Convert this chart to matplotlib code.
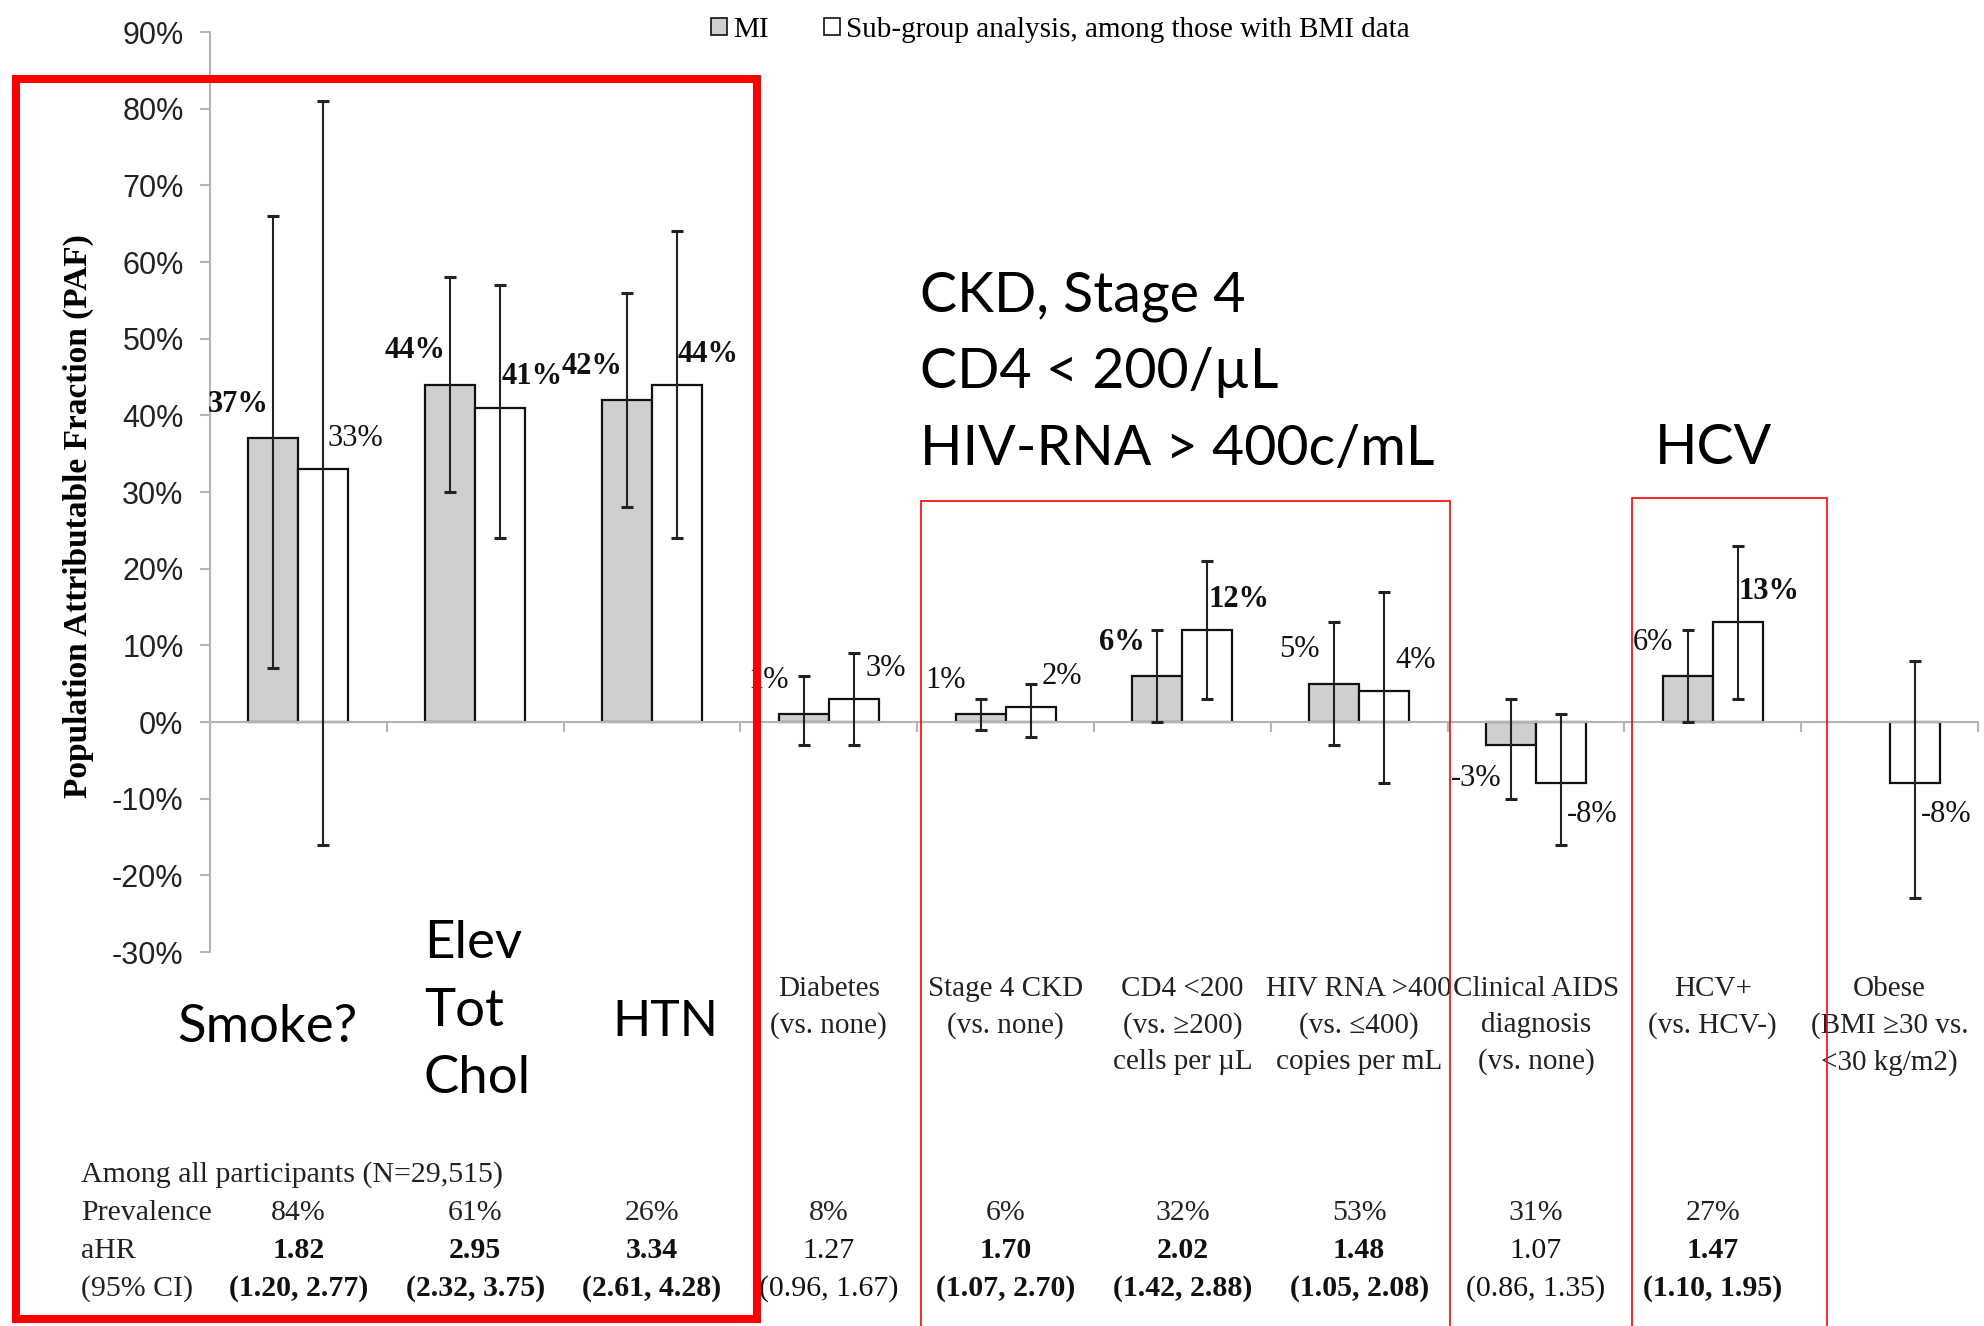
import numpy as np
import matplotlib
matplotlib.use("Agg")
import matplotlib.pyplot as plt
from matplotlib.patches import Patch, Rectangle
from matplotlib import transforms

# PAF per risk factor: MI cohort vs BMI sub-group (percent)
mi_vals = [37, 44, 42, 1, 1, 6, 5, -3, 6, None]
mi_lo = [7, 30, 28, -3, -1, 0, -3, -10, 0, None]
mi_hi = [66, 58, 56, 6, 3, 12, 13, 3, 12, None]
mi_bold = [True, True, True, False, False, True, False, False, False, False]

sub_vals = [33, 41, 44, 3, 2, 12, 4, -8, 13, -8]
sub_lo = [-16, 24, 24, -3, -2, 3, -8, -16, 3, -23]
sub_hi = [81, 57, 64, 9, 5, 21, 17, 1, 23, 8]
sub_bold = [False, True, True, False, False, True, False, False, True, False]

cat_labels = ["", "", "",
              "Diabetes\n(vs. none)",
              "Stage 4 CKD\n(vs. none)",
              "CD4 <200\n(vs. \u2265200)\ncells per \u00b5L",
              "HIV RNA >400\n(vs. \u2264400)\ncopies per mL",
              "Clinical AIDS\ndiagnosis\n(vs. none)",
              "HCV+\n(vs. HCV-)",
              "Obese\n(BMI \u226530 vs.\n<30 kg/m2)"]

prevalence = ["84%", "61%", "26%", "8%", "6%", "32%", "53%", "31%", "27%"]
ahr = ["1.82", "2.95", "3.34", "1.27", "1.70", "2.02", "1.48", "1.07", "1.47"]
ahr_ci = ["(1.20, 2.77)", "(2.32, 3.75)", "(2.61, 4.28)", "(0.96, 1.67)",
          "(1.07, 2.70)", "(1.42, 2.88)", "(1.05, 2.08)", "(0.86, 1.35)",
          "(1.10, 1.95)"]
ahr_bold = [True, True, True, False, True, True, True, False, True]

yticks = np.arange(-30, 91, 10)

W, H = 1984, 1326
SERIF = ["Liberation Serif", "DejaVu Serif"]
NARROW = ["Liberation Sans Narrow", "Liberation Sans", "DejaVu Sans"]
CALLOUT = ["Lato", "DejaVu Sans"]
AXIS_GRAY = "#b4b4b4"

fig = plt.figure(figsize=(W / 100, H / 100), dpi=100)
ax = fig.add_axes([210 / W, 1 - 952 / H, (1978 - 210) / W, (952 - 32) / H])

x = np.arange(len(sub_vals))
bw = 0.283

# grey MI bars (no value for obesity)
mi_idx = [i for i, v in enumerate(mi_vals) if v is not None]
mi_x = x[mi_idx] - bw / 2
mi_v = np.array([mi_vals[i] for i in mi_idx])
ax.bar(mi_x, mi_v, bw, color="#cfcfcf", edgecolor="#111111", linewidth=1.6, zorder=2)
ax.errorbar(mi_x, mi_v,
            yerr=[mi_v - np.array([mi_lo[i] for i in mi_idx]),
                  np.array([mi_hi[i] for i in mi_idx]) - mi_v],
            fmt="none", ecolor="#222222", elinewidth=1.5, capsize=4, capthick=2.2, zorder=3)

sub_x = x + bw / 2
sub_v = np.array(sub_vals)
ax.bar(sub_x, sub_v, bw, color="white", edgecolor="#111111", linewidth=1.6, zorder=2)
ax.errorbar(sub_x, sub_v, yerr=[sub_v - np.array(sub_lo), np.array(sub_hi) - sub_v],
            fmt="none", ecolor="#222222", elinewidth=1.5, capsize=4, capthick=2.2, zorder=3)

# value labels
for i in mi_idx:
    v = mi_vals[i]
    ax.text(i - 0.34, v + (4.4 if v >= 0 else -4.4), f"{v}%", ha="center", va="center",
            family=SERIF, fontsize=22, fontweight="bold" if mi_bold[i] else "normal",
            color="#111111", zorder=4)
for i, v in enumerate(sub_vals):
    ax.text(i + 0.32, v + (4.0 if v >= 0 else -4.0), f"{v}%", ha="center", va="center",
            family=SERIF, fontsize=22, fontweight="bold" if sub_bold[i] else "normal",
            color="#111111", zorder=4)

# axes styling
ax.set_xlim(-0.5, len(sub_vals) - 0.5)
ax.set_ylim(-30, 90)
for s in ["top", "right"]:
    ax.spines[s].set_visible(False)
ax.spines["left"].set_color(AXIS_GRAY)
ax.spines["left"].set_linewidth(1.5)
ax.spines["bottom"].set_position(("data", 0))
ax.spines["bottom"].set_color(AXIS_GRAY)
ax.spines["bottom"].set_linewidth(1.5)
ax.set_xticks(np.arange(0.5, len(sub_vals), 1))
ax.set_xticklabels([])
ax.tick_params(axis="x", direction="out", length=7, width=1.5, color=AXIS_GRAY)
ax.set_yticks(yticks)
ax.set_yticklabels([f"{v}%" for v in yticks], family=NARROW, fontsize=22, color="#222222")
ax.tick_params(axis="y", direction="out", length=7, width=1.5, color=AXIS_GRAY, pad=12)

fig.text(78 / W, 1 - 516 / H, "Population Attributable Fraction (PAF)", rotation=90,
         ha="center", va="center", family=SERIF, fontsize=24, fontweight="bold")

# legend
handles = [Patch(facecolor="#cfcfcf", edgecolor="#111111", linewidth=1.2),
           Patch(facecolor="white", edgecolor="#111111", linewidth=1.2)]
fig.legend(handles, ["MI", "Sub-group analysis, among those with BMI data"], ncol=2,
           loc="center left", bbox_to_anchor=(711 / W, 1 - 30 / H), frameon=False,
           handlelength=0.55, handleheight=0.55, handletextpad=0.2, columnspacing=1.9,
           borderpad=0, borderaxespad=0, prop={"family": SERIF, "size": 21})

# category labels and table beneath the axis
tr = transforms.blended_transform_factory(ax.transData, fig.transFigure)
for i, lab in enumerate(cat_labels):
    if lab:
        ax.text(i, 1 - 976 / H, lab, transform=tr, ha="center", va="top", family=SERIF,
                fontsize=21, linespacing=1.5, color="#222222")

fig.text(81 / W, 1 - 1175 / H, "Among all participants (N=29,515)", ha="left", va="center",
         family=SERIF, fontsize=21.5, color="#222222")
for j, row in enumerate(["Prevalence", "aHR", "(95% CI)"]):
    fig.text(81 / W, 1 - (1213 + 38 * j) / H, row, ha="left", va="center",
             family=SERIF, fontsize=21.5, color="#222222")
for i in range(len(prevalence)):
    ax.text(i, 1 - 1213 / H, prevalence[i], transform=tr, ha="center", va="center",
            family=SERIF, fontsize=21.5, color="#222222")
    wt = "bold" if ahr_bold[i] else "normal"
    ax.text(i, 1 - 1251 / H, ahr[i], transform=tr, ha="center", va="center",
            family=SERIF, fontsize=21.5, fontweight=wt, color="#111111")
    ax.text(i, 1 - 1289 / H, ahr_ci[i], transform=tr, ha="center", va="center",
            family=SERIF, fontsize=21.5, fontweight=wt, color="#111111")

# call-outs
fig.text(267 / W, 1 - 1027 / H, "Smoke?", ha="center", va="center", family=CALLOUT, fontsize=38)
fig.text(424 / W, 1 - 1011 / H, "Elev\nTot\nChol", ha="left", va="center", family=CALLOUT,
         fontsize=38, linespacing=1.55)
fig.text(665 / W, 1 - 1022 / H, "HTN", ha="center", va="center", family=CALLOUT, fontsize=36)
fig.text(920 / W, 1 - 373 / H, "CKD, Stage 4\nCD4 < 200/\u00b5L\nHIV-RNA > 400c/mL",
         ha="left", va="center", family=CALLOUT, fontsize=40, linespacing=1.63)
fig.text(1713 / W, 1 - 448 / H, "HCV", ha="center", va="center", family=CALLOUT, fontsize=40)

# red highlight boxes
def box(x0, y0, x1, y1, lw):
    fig.add_artist(Rectangle((x0 / W, 1 - y1 / H), (x1 - x0) / W, (y1 - y0) / H,
                             transform=fig.transFigure, fill=False, edgecolor="#ff0000",
                             linewidth=lw, zorder=10))

box(16, 79, 757, 1319, 5.8)
box(921, 501, 1450, 1360, 1.2)
box(1632, 498, 1827, 1360, 1.2)

fig.savefig("out.png", dpi=100)
